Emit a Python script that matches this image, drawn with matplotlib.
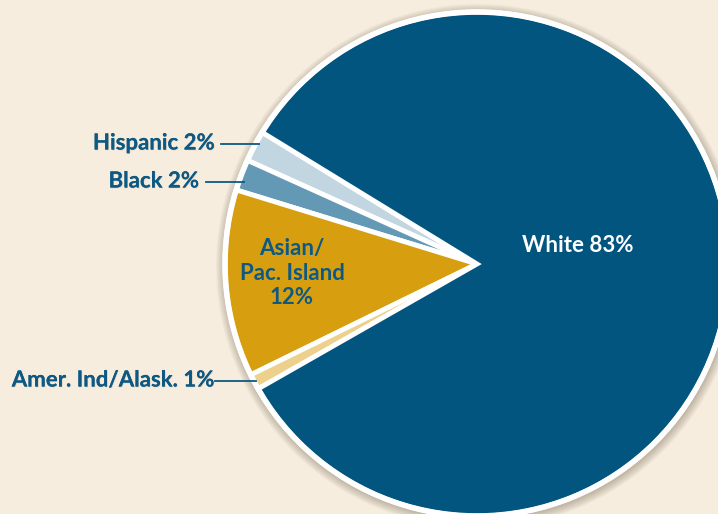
import matplotlib
matplotlib.use('Agg')
import matplotlib.pyplot as plt
from matplotlib.patches import Circle
import matplotlib.patheffects as pe

# shares by group, counter-clockwise from the top of the Hispanic wedge
groups = ['Hispanic', 'Black', 'Asian/\nPac. Island', 'Amer. Ind/Alask.', 'White']
shares = [2, 2, 12, 1, 83]
colors = ['#c2d6e1', '#6499b6', '#d79f10', '#ecd08b', '#02557f']

bg = '#f6eddf'
ink = '#0d5983'
font = ['Lato', 'DejaVu Sans']
fs = 16

fig = plt.figure(figsize=(7.18, 5.14), dpi=100, facecolor=bg)
ax = fig.add_axes([0, 0, 1, 1])
ax.set_facecolor(bg)

cx, cy, r = 477, 250, 252

# soft shadow around the rim
for i in range(10):
    ax.add_patch(Circle((cx + 1, cy - 2), r + 2 + i * 0.9, color='#5a4a30',
                        alpha=0.035, lw=0, zorder=0))

wedges, _ = ax.pie(shares, colors=colors, startangle=148.5, counterclock=True,
                   center=(cx, cy), radius=r, frame=True,
                   wedgeprops=dict(edgecolor='white', linewidth=3.5))
ax.add_patch(Circle((cx, cy), r, fill=False, edgecolor='white', lw=4, zorder=5))
ax.set_xlim(0, 718)
ax.set_ylim(0, 514)
ax.set_aspect('equal')
ax.axis('off')

glow = [pe.withSimplePatchShadow(offset=(0.5, -0.5), shadow_rgbFace='#b9ab95', alpha=0.5),
        pe.Normal()]

def side_label(text, tx, ty, x0, x1):
    ax.text(tx, ty, text, ha='right', va='center', color=ink, fontsize=fs,
            fontweight='bold', family=font, path_effects=glow, zorder=6)
    ax.plot([x0, x1], [ty - 1, ty - 1], color=ink, lw=1.3, zorder=6)

side_label(f'{groups[0]} {shares[0]}%', 215, 514 - 143, 221, 259)
side_label(f'{groups[1]} {shares[1]}%', 199, 514 - 181, 206, 244)
side_label(f'{groups[3]} {shares[3]}%', 215, 514 - 380, 215, 256)

ax.text(292, 514 - 273, f'{groups[2]}\n{shares[2]}%', ha='center', va='center',
        color=ink, fontsize=fs, fontweight='bold', family=font,
        linespacing=1.22, zorder=6)
ax.text(578, 514 - 246, f'{groups[4]} {shares[4]}%', ha='center', va='center',
        color='white', fontsize=fs, fontweight='bold', family=font, zorder=6)

fig.savefig('out.png', dpi=100, facecolor=bg)
